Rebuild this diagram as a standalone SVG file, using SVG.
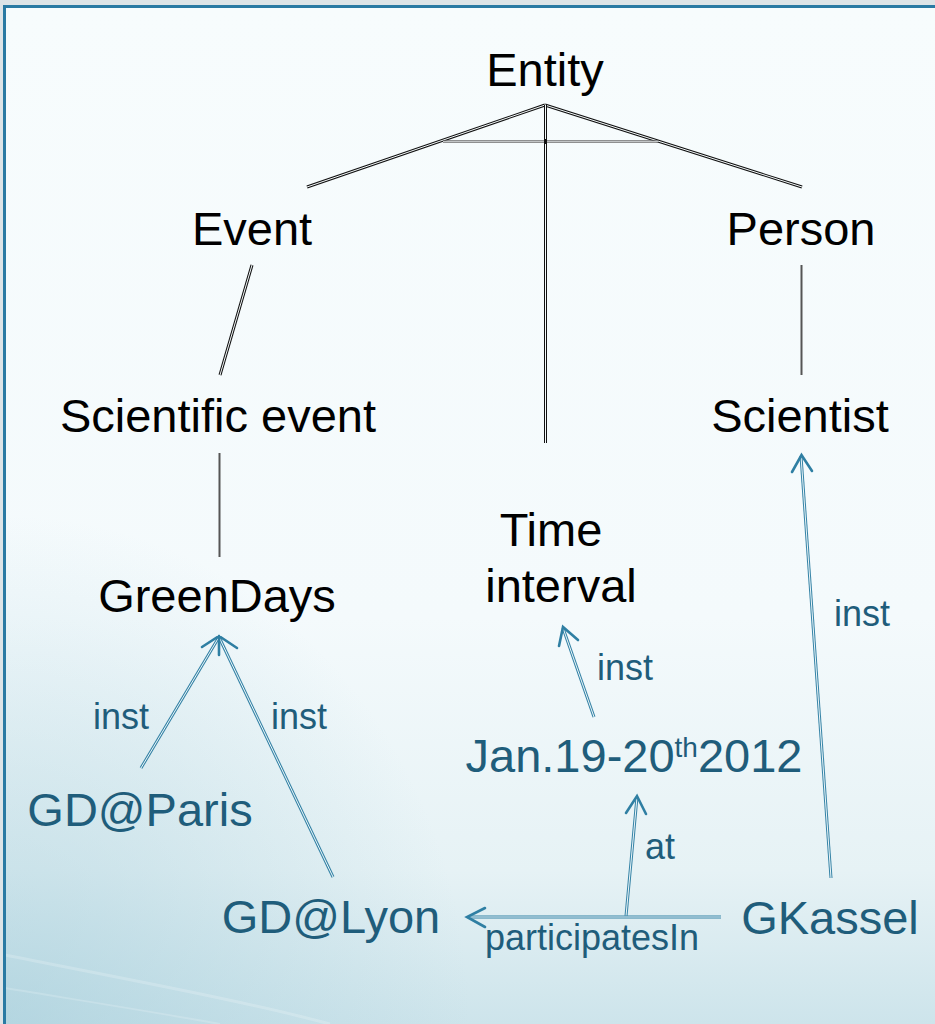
<svg xmlns="http://www.w3.org/2000/svg" xmlns:xlink="http://www.w3.org/1999/xlink" width="935" height="1024" viewBox="0 0 935 1024">
  <defs>
    <linearGradient id="bgFill" x1="0" y1="0" x2="0" y2="1">
      <stop offset="0" stop-color="#f7fcfd"/>
      <stop offset="0.6" stop-color="#f4fafc"/>
      <stop offset="0.85" stop-color="#e6f2f5"/>
      <stop offset="1" stop-color="#cde4eb"/>
    </linearGradient>
    <radialGradient id="cornerTint" cx="0" cy="1" r="0.5">
      <stop offset="0" stop-color="#9fcad8" stop-opacity="0.55"/>
      <stop offset="1" stop-color="#9fcad8" stop-opacity="0"/>
    </radialGradient>

    <!-- taxonomy edges (black double rule) -->
    <path id="e-entity-event" d="M545,105 L307,187"/>
    <path id="e-entity-person" d="M545,105 L802,187"/>
    <path id="e-entity-time" d="M545.5,105 L545.5,443"/>
    <path id="e-event-sci" d="M252,265 L220,375"/>

    <!-- instance / relation edges (blue double rule) -->
    <path id="a-paris" d="M141,768 L219,637"/>
    <path id="a-lyon" d="M333,877 L219,637"/>
    <path id="a-jan" d="M594,717 L563,628"/>
    <path id="a-at" d="M626,916 L637,797"/>
    <path id="a-part" d="M721,917 L468,917"/>
    <path id="a-kassel" d="M831,878 L801,456"/>
  </defs>

  <style>
    .node { font-family: "Liberation Sans", Arial, sans-serif; font-size: 47px; text-anchor: middle; }
    .black { fill: #000000; }
    .blue { fill: #1f5d7b; }
    .label { font-family: "Liberation Sans", Arial, sans-serif; font-size: 36px; fill: #1f5d7b; }
    .sup { font-size: 28px; }
    .dk-outer { fill: none; stroke: #111111; stroke-width: 3; }
    .dk-inner { fill: none; stroke: #f6fbfc; stroke-width: 1; }
    .gray { fill: none; stroke: #555555; stroke-width: 2; }
    .bl-outer { fill: none; stroke: #3583a6; stroke-width: 3; }
    .bl-inner { fill: none; stroke: #eef7fa; stroke-width: 1; }
    .head { fill: none; stroke: #2f7fa3; stroke-width: 2.6; stroke-linecap: round; stroke-linejoin: miter; }
  </style>

  <!-- page background and frame -->
  <rect x="0" y="0" width="935" height="1024" fill="#dde4e7"/>
  <rect x="5" y="6" width="930" height="1018" fill="url(#bgFill)"/>
  <rect x="5" y="6" width="930" height="1018" fill="url(#cornerTint)"/>
  <path d="M5,955 C120,978 240,1000 330,1024" fill="none" stroke="#ffffff" stroke-opacity="0.2" stroke-width="3"/>
  <path d="M5,988 C90,1002 160,1013 220,1024" fill="none" stroke="#ffffff" stroke-opacity="0.18" stroke-width="2"/>
  <line x1="3" y1="6.5" x2="935" y2="6.5" stroke="#2a7aa3" stroke-width="3"/>
  <line x1="4.5" y1="5" x2="4.5" y2="1024" stroke="#2a7aa3" stroke-width="3"/>

  <g id="connectors">
    <!-- subclass links -->
    <use xlink:href="#e-entity-event" class="dk-outer"/>
    <use xlink:href="#e-entity-event" class="dk-inner"/>
    <use xlink:href="#e-entity-person" class="dk-outer"/>
    <use xlink:href="#e-entity-person" class="dk-inner"/>
    <use xlink:href="#e-entity-time" class="dk-outer"/>
    <use xlink:href="#e-entity-time" class="dk-inner"/>
    <line x1="443" y1="141.5" x2="658" y2="141.5" stroke="#6d6d6d" stroke-width="2.4"/>
    <line x1="443" y1="141.5" x2="658" y2="141.5" stroke="#d8dcdd" stroke-width="0.8"/>
    <line x1="545.5" y1="139" x2="545.5" y2="144" stroke="#111111" stroke-width="3"/>
    <use xlink:href="#e-event-sci" class="dk-outer"/>
    <use xlink:href="#e-event-sci" class="dk-inner"/>
    <line x1="219.5" y1="453" x2="219.5" y2="557" class="gray"/>
    <line x1="801.5" y1="265" x2="801.5" y2="375" class="gray"/>

    <!-- instance and relation arrows -->
    <use xlink:href="#a-paris" class="bl-outer"/>
    <use xlink:href="#a-paris" class="bl-inner"/>
    <use xlink:href="#a-lyon" class="bl-outer"/>
    <use xlink:href="#a-lyon" class="bl-inner"/>
    <path d="M202,647 L219,636 L237,648 M219,636 L219,655" class="head"/>

    <use xlink:href="#a-jan" class="bl-outer"/>
    <use xlink:href="#a-jan" class="bl-inner"/>
    <path d="M559,646 L563,627 L578,640" class="head"/>

    <use xlink:href="#a-at" class="bl-outer"/>
    <use xlink:href="#a-at" class="bl-inner"/>
    <path d="M626,813 L637,796 L646,814" class="head"/>

    <use xlink:href="#a-part" class="bl-outer"/>
    <use xlink:href="#a-part" class="bl-inner"/>
    <path d="M485,908 L467,917 L485,927" class="head"/>

    <use xlink:href="#a-kassel" class="bl-outer"/>
    <use xlink:href="#a-kassel" class="bl-inner"/>
    <path d="M792,472 L801.5,455 L812,471" class="head"/>

    <!-- edge labels -->
    <text class="label" x="93" y="729">inst</text>
    <text class="label" x="271" y="729">inst</text>
    <text class="label" x="597" y="680">inst</text>
    <text class="label" x="834" y="626">inst</text>
    <text class="label" x="645" y="859">at</text>
    <text class="label" x="485" y="950">participatesIn</text>
  </g>

  <g id="entity"><text class="node black" x="545" y="86">Entity</text></g>
  <g id="event"><text class="node black" x="252" y="245">Event</text></g>
  <g id="person"><text class="node black" x="801" y="245">Person</text></g>
  <g id="scientific-event"><text class="node black" x="218" y="432">Scientific event</text></g>
  <g id="scientist"><text class="node black" x="800" y="432">Scientist</text></g>
  <g id="time-interval">
    <text class="node black" x="551" y="546">Time</text>
    <text class="node black" x="561" y="602">interval</text>
  </g>
  <g id="greendays"><text class="node black" x="217" y="612">GreenDays</text></g>

  <g id="gd-paris"><text class="node blue" x="140" y="826">GD@Paris</text></g>
  <g id="gd-lyon"><text class="node blue" x="331" y="933">GD@Lyon</text></g>
  <g id="jan-2012"><text class="node blue" x="634" y="772">Jan.19-20<tspan class="sup" dy="-15">th</tspan><tspan dy="15">2012</tspan></text></g>
  <g id="gkassel"><text class="node blue" x="830" y="934">GKassel</text></g>
</svg>
